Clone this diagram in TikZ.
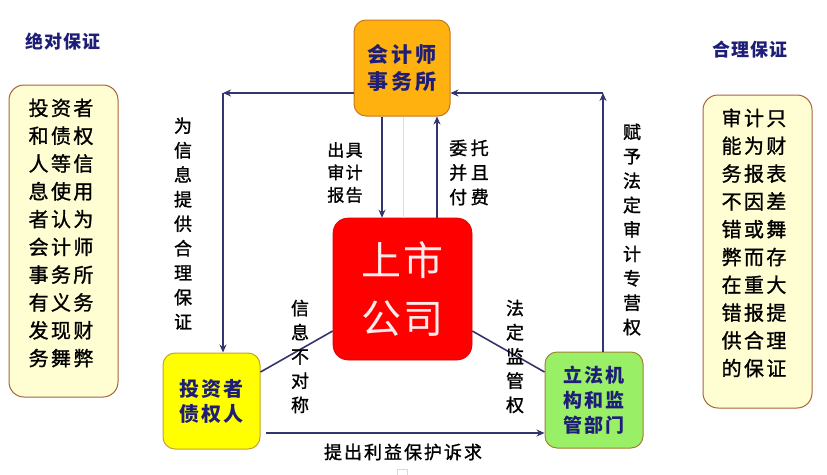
\documentclass[tikz,border=0pt]{standalone}
\usepackage{fontspec}
\newfontfamily\cjk{Noto Sans CJK SC}
\newfontfamily\cjkm[FakeBold=1.2]{Noto Sans CJK SC}
\newcommand\lsp[1]{\addfontfeature{LetterSpace=#1}}
\usetikzlibrary{arrows.meta}
\definecolor{navy}{HTML}{1E1E78}
\definecolor{linec}{HTML}{34346E}
\definecolor{orangebox}{HTML}{FFB10F}
\definecolor{orangeedge}{HTML}{C8781E}
\definecolor{yellowbox}{HTML}{FFFF00}
\definecolor{yellowedge}{HTML}{C8A02D}
\definecolor{greenbox}{HTML}{99F066}
\definecolor{greenedge}{HTML}{A08232}
\definecolor{creambox}{HTML}{FFFDD2}
\definecolor{creamedge}{HTML}{A8643C}
\definecolor{redbox}{HTML}{FF0000}
\begin{document}
\begin{tikzpicture}[x=1pt,y=-1pt,
  rbox/.style 2 args={minimum width=#1, minimum height=#2, inner sep=0pt, line width=1pt, rounded corners=12pt, align=center},
  navytext/.style={text=navy, font=\cjk\bfseries\fontsize{21}{27}\selectfont\lsp{14}},
  sidetext/.style={align=center, text=black, font=\cjkm\fontsize{20}{27.8}\selectfont\lsp{12}},
  title/.style={text=navy, font=\cjk\bfseries\fontsize{18}{20}\selectfont\lsp{6}},
  vlabel/.style={align=center, text=black, inner sep=0pt, font=\cjkm\fontsize{18}{24.5}\selectfont},
  conn/.style={draw=linec, line width=1.6pt},
  arr/.style={conn, -{Stealth[length=8pt,width=7pt]}}]
\useasboundingbox[fill=white] (0,0) rectangle (827,474);

% side boxes
\node[rbox={109pt}{312pt}, rounded corners=15pt, draw=creamedge, fill=creambox] (leftbox) at (63.5,241) {};
\node[sidetext] (lefttext) at (61,233) {投资者\\和债权\\人等信\\息使用\\者认为\\会计师\\事务所\\有义务\\发现财\\务舞弊};
\node[rbox={109pt}{313pt}, rounded corners=15pt, draw=creamedge, fill=creambox] (rightbox) at (757.5,251.5) {};
\node[sidetext] (righttext) at (754,243) {审计只\\能为财\\务报表\\不因差\\错或舞\\弊而存\\在重大\\错报提\\供合理\\的保证};
\node[title] (tleft) at (63,42) {绝对保证};
\node[title] (tright) at (750,50) {合理保证};

% main boxes
\node[rbox={96pt}{96pt}, draw=orangeedge, fill=orangebox, navytext] (acct) at (402,68) {会计师\\事务所};
\node[rbox={139pt}{142pt}, rounded corners=15pt, draw=redbox!85!black, line width=0.6pt, fill=redbox, text=red!8!white,
      font=\cjk\fontsize{40}{58}\selectfont\lsp{6}] (comp) at (402.5,289) {上市\\公司};
\node[rbox={97pt}{96pt}, draw=yellowedge, fill=yellowbox, navytext, font=\cjk\bfseries\fontsize{20}{25}\selectfont\lsp{12}] (inv) at (211.5,401) {投资者\\债权人};
\node[rbox={98pt}{96pt}, draw=greenedge, fill=greenbox, navytext, font=\cjk\bfseries\fontsize{19}{25}\selectfont\lsp{12}] (reg) at (594,400) {立法机\\构和监\\管部门};

% helper coordinates
\coordinate (tl) at (223,93);
\coordinate (tr) at (603,93);
\coordinate (d1) at (382,0);
\coordinate (d2) at (437,0);
\coordinate (d3) at (403,0);
\coordinate (q1) at (0,372);
\coordinate (q2) at (0,331);
\coordinate (q3) at (0,433);

% connectors
\draw[gray!25, line width=0.8pt] (acct.south -| d3) -- (comp.north -| d3);
\draw[arr] (acct.west |- tl) -- (tl);
\draw[arr] (tl) -- (tl |- inv.north);
\draw[arr] (tr |- reg.north) -- (tr);
\draw[arr] (tr) -- (acct.east |- tr);
\draw[arr] (acct.south -| d1) -- (comp.north -| d1);
\draw[arr] (comp.north -| d2) -- (acct.south -| d2);
\draw[conn] (inv.east |- q1) -- (comp.west |- q2);
\draw[conn] (comp.east |- q2) -- (reg.west |- q1);
\draw[arr] ([xshift=5pt]inv.east |- q3) -- (reg.west |- q3);

% labels
\node[vlabel] (l1) at (183,223.5) {为\\信\\息\\提\\供\\合\\理\\保\\证};
\node[vlabel, font=\cjkm\fontsize{18}{24.4}\selectfont] (l2) at (632,229.5) {赋\\予\\法\\定\\审\\计\\专\\营\\权};
\node[vlabel, font=\cjkm\fontsize{18}{24.2}\selectfont] (l3) at (300,356.5) {信\\息\\不\\对\\称};
\node[vlabel, font=\cjkm\fontsize{18}{24.2}\selectfont] (l4) at (515,356.5) {法\\定\\监\\管\\权};
\node[vlabel, font=\cjkm\fontsize{17}{22.5}\selectfont\lsp{8}] (l5) at (345,172.5) {出具\\审计\\报告};
\node[vlabel, font=\cjkm\fontsize{18}{24.5}\selectfont\lsp{20}] (l6) at (469,172.5) {委托\\并且\\付费};
\node[vlabel, font=\cjkm\fontsize{18}{20}\selectfont\lsp{11}] (l7) at (403,452) {提出利益保护诉求};

% faint artifact square
\draw[gray!30, line width=0.6pt] (397,469) rectangle (407,478);
\end{tikzpicture}
\end{document}
